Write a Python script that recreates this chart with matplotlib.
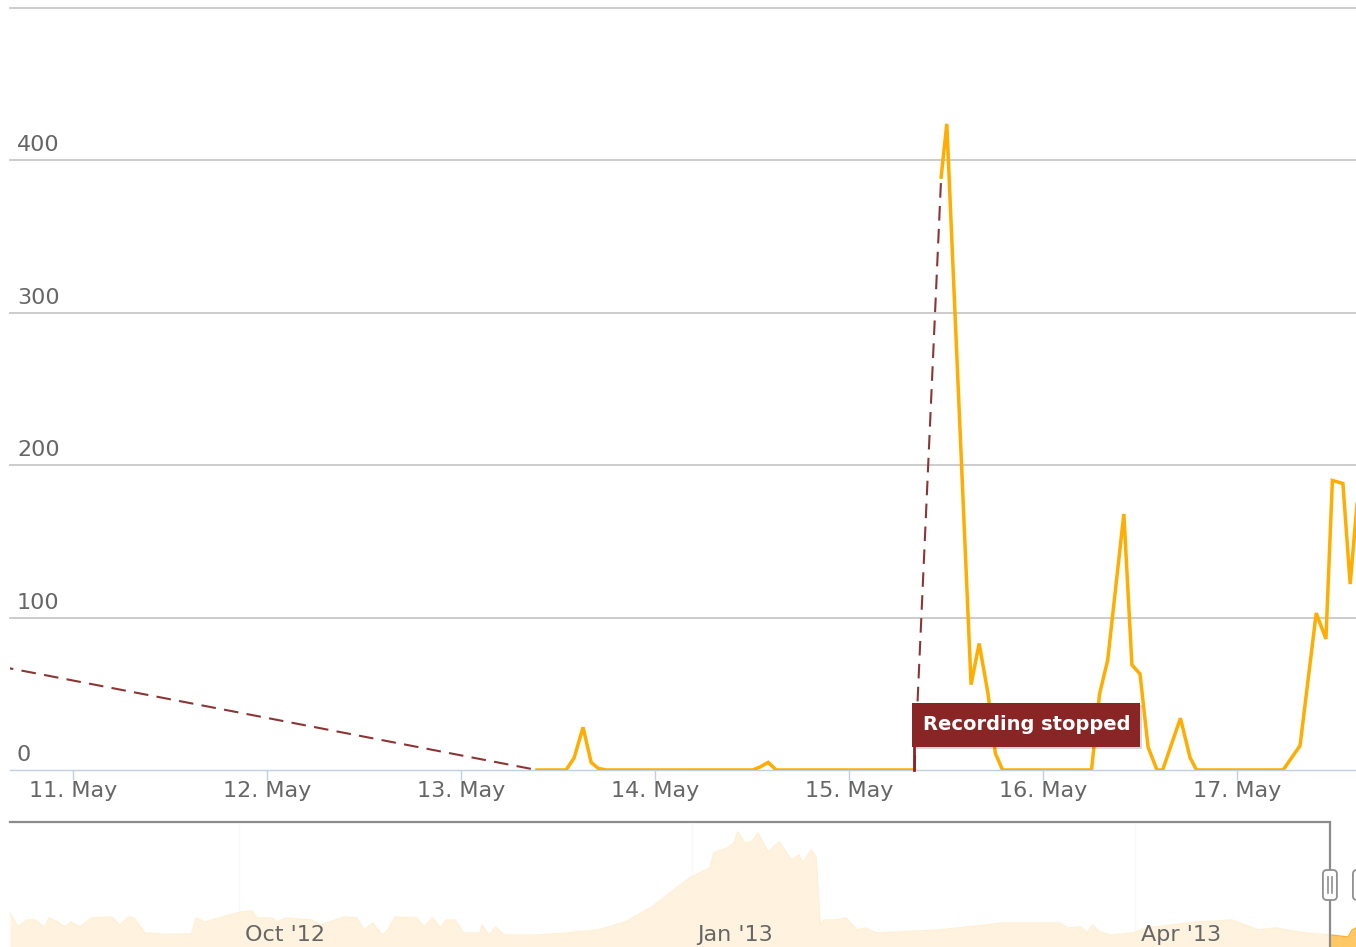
import matplotlib
matplotlib.use('Agg')
import matplotlib.pyplot as plt
from matplotlib import transforms
from matplotlib.patches import Rectangle, FancyBboxPatch

plt.rcParams['font.family'] = ['DejaVu Sans']

# ---------------- data ----------------
# main series: hours since 11 May 00:00
rec1_hours = [57.4, 61.0, 62.0, 63.1, 64.1, 65.0, 66.0, 84.1, 85.0, 86.0, 87.0, 104.1]
rec1_values = [0, 0, 8, 28, 5, 1, 0, 0, 2, 5, 0, 0]

rec2_hours = [107.4, 108.1, 111.1, 112.1, 113.2, 114.1, 115.0, 126.0, 127.0, 128.0,
              130.0, 131.0, 132.0, 133.0, 134.1, 134.8, 137.0, 138.2, 139.0, 149.7,
              151.8, 153.8, 155.0, 155.8, 157.1, 158.0, 158.9]
rec2_values = [389, 424, 56, 83, 50, 11, 0, 0, 50, 72,
               168, 69, 63, 15, 0, 0, 34, 8, 0, 0,
               16, 103, 86, 190, 188, 122, 178]

gap1_hours = [-12.0, 57.4]
gap1_values = [71, 0]
gap2_hours = [104.1, 107.4]
gap2_values = [0, 389]

flag_hour = 104.1
flag_text = 'Recording stopped'

day_tick_hours = [0, 24, 48, 72, 96, 120, 144]
day_labels = ['11. May', '12. May', '13. May', '14. May', '15. May', '16. May', '17. May']
y_ticks = [0, 100, 200, 300, 400]
y_grid = [100, 200, 300, 400, 500]

# navigator series: days since 1 Oct 2012, relative values
nav_days = [-46.5, -44.9, -43.1, -41.3, -39.4, -38.6, -36.8, -35.4, -34.1, -32.3,
            -29.9, -25.8, -24.2, -22.4, -21.3, -19.1, -15.9, -9.6, -8.7, -6.9,
            -3.3, 0.4, 2.6, 3.7, 6.7, 7.7, 9.6, 14.8, 16.7, 21.3,
            24.0, 25.4, 27.2, 29.1, 30.3, 31.7, 36.2, 37.6, 39.4, 40.9,
            42.1, 43.9, 45.7, 49.0, 49.4, 50.8, 52.2, 53.9, 60.4, 66.7,
            68.1, 73.0, 78.5, 83.9, 88.4, 91.9, 95.7, 96.5, 99.2, 100.6,
            101.4, 102.8, 104.1, 105.5, 107.5, 109.8, 111.6, 112.4, 113.8, 114.6,
            116.3, 117.3, 118.1, 118.9, 121.1, 123.4, 125.6, 127.2, 129.5, 142.3,
            155.3, 166.7, 168.5, 171.1, 172.4, 173.4, 175.0, 177.2, 181.7, 184.3,
            194.7, 201.8, 204.5, 207.1, 210.6, 216.7, 222.0, 225.4, 226.2, 227.0]
nav_values = [34, 20, 27, 27, 19, 29, 25, 20, 25, 20,
              29, 30, 22, 30, 29, 14, 13, 13, 29, 25,
              30, 35, 36, 29, 29, 25, 29, 27, 22, 30,
              29, 17, 24, 12, 17, 30, 29, 20, 29, 19,
              27, 27, 14, 14, 22, 12, 20, 12, 12, 14,
              15, 17, 25, 40, 57, 70, 79, 94, 99, 104,
              115, 104, 105, 114, 95, 105, 92, 87, 92, 84,
              97, 90, 22, 27, 27, 29, 17, 19, 14, 17,
              24, 24, 19, 20, 14, 22, 15, 12, 14, 19,
              25, 27, 22, 17, 19, 14, 12, 10, 17, 19]
nav_tick_days = [0, 92, 182]
nav_labels = ["Oct '12", "Jan '13", "Apr '13"]
nav_sel_start = 221.7
nav_sel_end = 227.8

# ---------------- style ----------------
ORANGE = '#FFAD00'
DASH = '#8B3535'
FLAG = '#8A2525'
GRID = '#C8C8C8'
AXIS = '#C0D0E0'
LABEL = '#666666'
FS = 16.0
W, H = 1356, 947

fig = plt.figure(figsize=(W / 100, H / 100), dpi=100)
ax = fig.add_axes([10 / W, (H - 770) / H, 1346 / W, 762 / H])
ax.set_xlim(-7.79, 158.72)
ax.set_ylim(0, 500)
for s in ['top', 'left', 'right']:
    ax.spines[s].set_visible(False)
ax.spines['bottom'].set_color(AXIS)
ax.spines['bottom'].set_linewidth(1.0)
ax.spines['bottom'].set_zorder(1)

for g in y_grid:
    ax.axhline(g, color=GRID, lw=1.3, zorder=0, clip_on=False)

ax.set_yticks([])
ax.set_xticks(day_tick_hours)
ax.set_xticklabels(day_labels)
ax.tick_params(axis='x', direction='out', length=7, width=1, color=AXIS,
               pad=1.0, labelsize=FS, labelcolor=LABEL)

ytrans = ax.get_yaxis_transform()
for v in y_ticks:
    ax.annotate(str(v), xy=(0, v), xycoords=ytrans, xytext=(7, 9),
                textcoords='offset pixels', ha='left', va='baseline',
                fontsize=FS, color=LABEL, annotation_clip=False)

# dashed gap lines
ax.plot(gap1_hours, gap1_values, color=DASH, lw=1.5, dashes=(7, 4), zorder=2)
ax.plot(gap2_hours, gap2_values, color=DASH, lw=1.5, dashes=(7, 4), zorder=2)
# main series
ax.plot(rec1_hours, rec1_values, color=ORANGE, lw=2.5, zorder=3, solid_joinstyle='miter')
ax.plot(rec2_hours, rec2_values, color=ORANGE, lw=2.5, zorder=3, solid_joinstyle='miter')

# flag
ftr = transforms.Affine2D() + transforms.ScaledTranslation(flag_hour, 0, ax.transData)
ax.add_patch(Rectangle((0, 21), 228, 44, transform=ftr, facecolor='#000000', alpha=0.15,
                       lw=0, zorder=4, clip_on=False))
ax.plot([0, 0], [0, 24], transform=ftr, color=FLAG, lw=2, zorder=5, clip_on=False)
ax.add_patch(Rectangle((-2, 23), 228, 44, transform=ftr, facecolor=FLAG,
                       edgecolor=FLAG, lw=0, zorder=5, clip_on=False))
ax.text(112, 46, flag_text, transform=ftr, ha='center', va='center', color='white',
        fontsize=14, fontweight='bold', zorder=6, clip_on=False)

# ---------------- navigator ----------------
nav = fig.add_axes([10 / W, 0, 1346 / W, 125 / H])
nav.set_xlim(-46.5, 227.0)
nav.set_ylim(0, 125)
nav.axis('off')
for d in nav_tick_days:
    nav.axvline(d, color='#E6E6E6', lw=1, zorder=0)
nav.fill_between(nav_days, nav_values, -10, color='#FFC864', lw=0, zorder=1)
nav.plot(nav_days, nav_values, color='#FFB030', lw=1, zorder=2)
nav.add_patch(Rectangle((-46.5, -10), nav_sel_start + 46.5, 140, facecolor='white',
                        alpha=0.8, lw=0, zorder=3))
for d, lab in zip(nav_tick_days, nav_labels):
    nav.annotate(lab, xy=(d, 0), xycoords='data', xytext=(6, 6),
                 textcoords='offset pixels', ha='left', va='baseline',
                 fontsize=FS, color=LABEL, zorder=4)
# outline
nav.plot([-46.5, nav_sel_start, nav_sel_start], [125, 125, -10], color='#8C8C8C',
         lw=1.6, zorder=5, clip_on=False, solid_joinstyle='miter')
# handles
for d in [nav_sel_start, nav_sel_end]:
    htr = transforms.Affine2D() + transforms.ScaledTranslation(d, 62, nav.transData)
    nav.add_patch(FancyBboxPatch((-7, -15), 14, 30, boxstyle='round,pad=0,rounding_size=4',
                                 transform=htr, facecolor='white', edgecolor='#909090',
                                 lw=1.3, zorder=6, clip_on=False))
    for dx in (-2, 2):
        nav.plot([dx, dx], [-8, 8], transform=htr, color='#909090', lw=1.2, zorder=7,
                 clip_on=False)

fig.savefig('out.png', dpi=100)
